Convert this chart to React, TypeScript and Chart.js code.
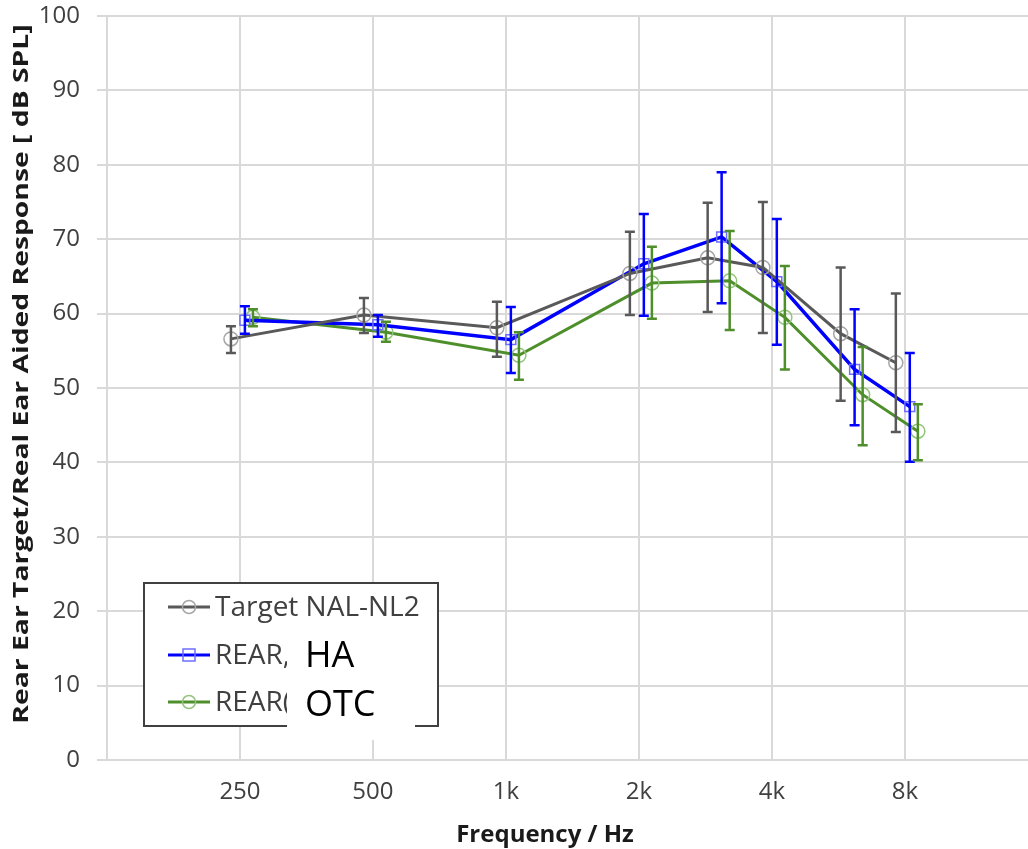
import React, { useEffect, useRef } from "react";
import { Chart, registerables } from "chart.js";

Chart.register(...registerables);

// ---- data ----
const frequencies = [250, 500, 1000, 2000, 3000, 4000, 6000, 8000];
const tickFrequencies = [250, 500, 1000, 2000, 4000, 8000];
const tickLabels = ["250", "500", "1k", "2k", "4k", "8k"];

const targetValues = [56.6, 59.8, 58.1, 65.4, 67.5, 66.2, 57.3, 53.4];
const targetUpper = [58.3, 62.1, 61.6, 71.0, 74.9, 75.0, 66.2, 62.7];
const targetLower = [54.7, 57.4, 54.2, 59.8, 60.2, 57.4, 48.3, 44.1];

const haValues = [59.1, 58.5, 56.5, 66.7, 70.3, 64.3, 52.5, 47.5];
const haUpper = [61.0, 59.8, 60.9, 73.4, 79.0, 72.7, 60.6, 54.7];
const haLower = [57.3, 56.9, 52.0, 59.7, 61.4, 55.8, 45.0, 40.1];

const otcValues = [59.5, 57.5, 54.4, 64.1, 64.4, 59.5, 49.1, 44.2];
const otcUpper = [60.6, 58.9, 57.5, 69.0, 71.1, 66.4, 55.5, 47.8];
const otcLower = [58.3, 56.2, 51.1, 59.3, 57.8, 52.5, 42.3, 40.3];

const seriesNames = ["Target NAL-NL2", "REAR HA", "REAR OTC"];
const legendShownNames = ["Target NAL-NL2", "REAR,", "REAR("];
const overlayNames = ["HA", "OTC"];

const xTitle = "Frequency / Hz";
const yTitle = "Rear Ear Target/Real Ear Aided Response [ dB SPL]";

// horizontal jitter factor per series (Excel-like offset)
const seriesJitter = [0.954, 1.026, 1.07];

const FONT = "'Open Sans', 'Noto Sans', sans-serif";

const lineColors = ["#595959", "#0000ff", "#4e8f2b"];
const markerColors = ["#a6a6a6", "#6f6fff", "#93c47d"];
const markerStyles = ["circle", "rect", "circle"];

function points(vals: number[], jitter: number) {
  return vals.map((v, i) => ({ x: frequencies[i] * jitter, y: v }));
}

const errorBars = [
  { lo: targetLower, hi: targetUpper },
  { lo: haLower, hi: haUpper },
  { lo: otcLower, hi: otcUpper },
];

const errorBarPlugin = {
  id: "errorBars",
  afterDatasetsDraw(chart: any) {
    const ctx = chart.ctx;
    const xs = chart.scales.x;
    const ys = chart.scales.y;
    chart.data.datasets.forEach((ds: any, di: number) => {
      const eb = errorBars[di];
      ctx.save();
      ctx.strokeStyle = lineColors[di];
      ctx.lineWidth = 2.5;
      ds.data.forEach((p: any, i: number) => {
        const px = xs.getPixelForValue(p.x);
        const top = ys.getPixelForValue(eb.hi[i]);
        const bot = ys.getPixelForValue(eb.lo[i]);
        ctx.beginPath();
        ctx.moveTo(px, top);
        ctx.lineTo(px, bot);
        ctx.moveTo(px - 5, top);
        ctx.lineTo(px + 5, top);
        ctx.moveTo(px - 5, bot);
        ctx.lineTo(px + 5, bot);
        ctx.stroke();
      });
      ctx.restore();
    });
  },
};

const titlesPlugin = {
  id: "axisTitles",
  afterDraw(chart: any) {
    const ctx = chart.ctx;
    const area = chart.chartArea;
    ctx.save();
    ctx.fillStyle = "#1a1a1a";
    ctx.textAlign = "center";
    ctx.textBaseline = "middle";
    // x title
    ctx.font = `bold 24px ${FONT}`;
    ctx.fillText(xTitle, area.left + 438, area.bottom + 75);
    // y title (stretched along its length like the original)
    ctx.font = `bold 21px ${FONT}`;
    const w = ctx.measureText(yTitle).width;
    const target = (area.bottom - area.top) * 0.94;
    ctx.translate(22, (area.top + area.bottom) / 2 - 14);
    ctx.rotate(-Math.PI / 2);
    ctx.scale(target / w, 1);
    ctx.fillText(yTitle, 0, 0);
    ctx.restore();
  },
};

const legendPlugin = {
  id: "customLegend",
  afterDraw(chart: any) {
    const ctx = chart.ctx;
    const area = chart.chartArea;
    const bx = area.left + 37;
    const by = area.top + 567;
    const bw = 294;
    const bh = 143;
    ctx.save();
    ctx.fillStyle = "#ffffff";
    ctx.fillRect(bx, by, bw, bh);
    ctx.strokeStyle = "#404040";
    ctx.lineWidth = 2;
    ctx.strokeRect(bx, by, bw, bh);
    const rowY = [by + 24, by + 72, by + 119];
    legendShownNames.forEach((name, i) => {
      const y = rowY[i];
      ctx.strokeStyle = lineColors[i];
      ctx.lineWidth = 3;
      ctx.beginPath();
      ctx.moveTo(bx + 24, y);
      ctx.lineTo(bx + 66, y);
      ctx.stroke();
      ctx.strokeStyle = markerColors[i];
      ctx.lineWidth = 1.5;
      ctx.beginPath();
      if (markerStyles[i] === "rect") ctx.rect(bx + 45 - 6, y - 6, 12, 12);
      else ctx.arc(bx + 45, y, 6.5, 0, Math.PI * 2);
      ctx.stroke();
      ctx.fillStyle = "#404040";
      ctx.font = `28px ${FONT}`;
      ctx.textBaseline = "middle";
      ctx.textAlign = "left";
      ctx.fillText(name, bx + 71, y + 1);
    });
    // white overlay patch with labels
    const ox = bx + 143;
    const oy = by + 47;
    ctx.fillStyle = "#ffffff";
    ctx.fillRect(ox, oy, 128, 110);
    ctx.fillStyle = "#000000";
    ctx.font = `36px ${FONT}`;
    ctx.textBaseline = "middle";
    ctx.fillText(overlayNames[0], ox + 18, by + 74);
    ctx.fillText(overlayNames[1], ox + 18, by + 123);
    ctx.restore();
  },
};

export default function App() {
  const ref = useRef<HTMLCanvasElement>(null);
  useEffect(() => {
    if (!ref.current) return;
    const valueSets = [targetValues, haValues, otcValues];
    const chart = new Chart(ref.current, {
      type: "line",
      data: {
        datasets: valueSets.map((vals, i) => ({
          label: seriesNames[i],
          data: points(vals, seriesJitter[i]),
          borderColor: lineColors[i],
          backgroundColor: "transparent",
          borderWidth: i === 1 ? 3.5 : 3,
          pointStyle: markerStyles[i] as any,
          pointRadius: 7,
          pointBorderColor: markerColors[i],
          pointBackgroundColor: "rgba(0,0,0,0)",
          pointBorderWidth: 1.5,
          tension: 0,
          clip: false as any,
        })),
      },
      options: {
        animation: false,
        responsive: false,
        layout: { autoPadding: false, padding: { top: 16, left: 0, right: 0, bottom: 0 } },
        plugins: {
          legend: { display: false },
          tooltip: { enabled: false },
        },
        scales: {
          x: {
            type: "logarithmic",
            min: 125,
            max: 15200,
            afterBuildTicks: (s: any) => {
              s.ticks = tickFrequencies.map((v) => ({ value: v }));
            },
            afterFit: (s: any) => {
              s.height = 89;
              s.paddingLeft = 0;
              s.paddingRight = 0;
            },
            ticks: {
              autoSkip: false,
              maxRotation: 0,
              padding: 18,
              color: "#404040",
              font: { family: FONT, size: 24 },
              callback: (v: any) => {
                const idx = tickFrequencies.indexOf(Number(v));
                return idx >= 0 ? tickLabels[idx] : "";
              },
            },
            grid: { color: "#d9d9d9", lineWidth: 2, drawTicks: false },
            border: { display: true, color: "#d9d9d9", width: 2 },
            title: { display: false },
          },
          y: {
            min: 0,
            max: 100,
            afterFit: (s: any) => {
              s.width = 107;
              s.paddingTop = 0;
              s.paddingBottom = 0;
            },
            ticks: {
              stepSize: 10,
              padding: 17,
              color: "#404040",
              font: { family: FONT, size: 24 },
            },
            grid: { color: "#d9d9d9", lineWidth: 2, tickLength: 10 },
            border: { display: true, color: "#d9d9d9", width: 2 },
            title: { display: false },
          },
        },
      },
      plugins: [errorBarPlugin, titlesPlugin, legendPlugin],
    });
    return () => chart.destroy();
  }, []);
  return (
    <div style={{ position: "fixed", left: 0, top: 0, width: 1028, height: 849, background: "#fff" }}>
      <canvas ref={ref} width={1028} height={849} style={{ display: "block" }} />
    </div>
  );
}
